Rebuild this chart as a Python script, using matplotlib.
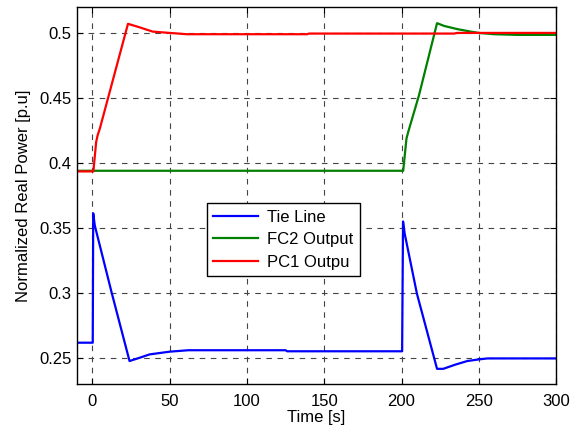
import matplotlib
matplotlib.use("Agg")
import matplotlib.pyplot as plt

plt.rcParams['font.family'] = ['Liberation Sans', 'DejaVu Sans']

# Tie Line
tie_t = [-10, 0.2, 0.5, 1.5, 12.5, 24, 30, 37, 50, 62, 125, 126, 200, 200.4, 201, 202, 210, 223, 227, 235, 242.6, 250.4, 255.6, 300]
tie_p = [0.2618, 0.2618, 0.3613, 0.3520, 0.3000, 0.2477, 0.2500, 0.2528, 0.2549, 0.2560, 0.2560, 0.2552, 0.2552, 0.2552, 0.3550, 0.3460, 0.2994, 0.2417, 0.2417, 0.2450, 0.2477, 0.2490, 0.2497, 0.2497]

# FC2 Output
fc2_t = [-10, 201.1, 203.2, 204.5, 211.3, 223, 227.5, 236.2, 244.8, 250, 260, 275, 300]
fc2_p = [0.3940, 0.3940, 0.4187, 0.4245, 0.4520, 0.5075, 0.5054, 0.5029, 0.5010, 0.5000, 0.4990, 0.4985, 0.4985]

# PC1 Output
pc1_t = [-10, 0.6, 2.4, 3.4, 4.8, 23.0, 30, 39, 50, 61, 139, 140, 234, 236, 300]
pc1_p = [0.3935, 0.3935, 0.4161, 0.4215, 0.4265, 0.5070, 0.5045, 0.5010, 0.5000, 0.4990, 0.4990, 0.4995, 0.4995, 0.5000, 0.5000]

fig = plt.figure(figsize=(5.78, 4.32), dpi=100)
ax = fig.add_axes([0.1332, 0.111, 0.8288, 0.873])

ax.plot(tie_t, tie_p, color='#0000ff', lw=1.6, label='Tie Line')
ax.plot(fc2_t, fc2_p, color='#008000', lw=1.6, label='FC2 Output')
ax.plot(pc1_t, pc1_p, color='#ff0000', lw=1.6, label='PC1 Outpu')

ax.set_xlim(-10, 300)
ax.set_ylim(0.23, 0.52)
ax.set_xticks([0, 50, 100, 150, 200, 250, 300])
ax.set_yticks([0.25, 0.3, 0.35, 0.4, 0.45, 0.5])
ax.set_yticklabels(['0.25', '0.3', '0.35', '0.4', '0.45', '0.5'])

ax.grid(True, color='#444444', lw=0.8, linestyle=(0, (5, 5)))
ax.tick_params(direction='in', length=4, width=0.8, labelsize=12,
               top=True, right=True, colors='black', pad=4)
ax.tick_params(axis='x', pad=7)
for s in ax.spines.values():
    s.set_linewidth(1.0)

ax.set_xlabel('Time [s]', fontsize=12, labelpad=1)
ax.set_ylabel('Normalized Real Power [p.u]', fontsize=12, labelpad=6)

leg = ax.legend(loc='upper left', bbox_to_anchor=(0.271, 0.480), fontsize=12,
                fancybox=False, edgecolor='black', framealpha=1,
                handlelength=2.7, borderpad=0.4, labelspacing=0.45,
                handletextpad=0.5, borderaxespad=0)
leg.get_frame().set_linewidth(1.0)

fig.savefig('out.png', dpi=100)
